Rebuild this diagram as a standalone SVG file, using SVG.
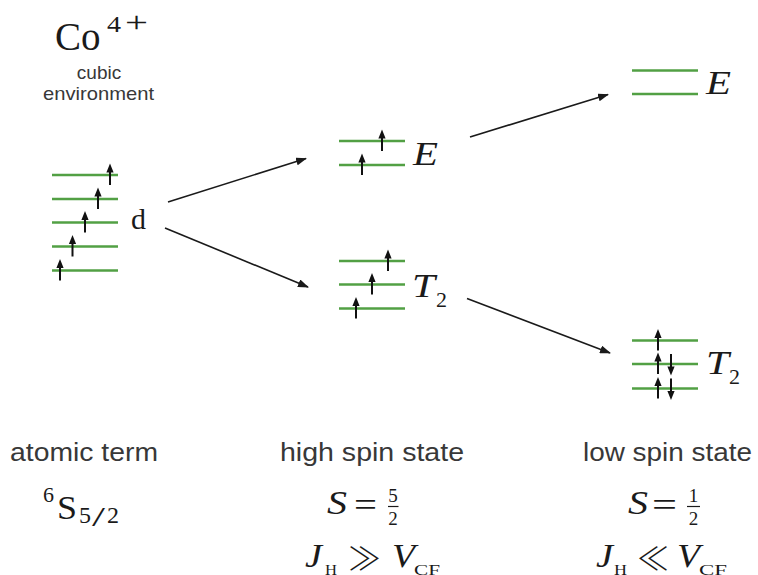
<svg xmlns="http://www.w3.org/2000/svg" xmlns:xlink="http://www.w3.org/1999/xlink" width="758" height="575" viewBox="0 0 758 575">
<style>
.lvl{stroke:#52a044;stroke-width:2.6;fill:none}
.con{stroke:#1a1a1a;stroke-width:1.6;fill:none;marker-end:url(#ah)}
.sans{font-family:"Liberation Sans",Arial,sans-serif;fill:#383838}
.serif{font-family:"Liberation Serif","Times New Roman",serif;fill:#1a1a1a}
.it{font-style:italic}
.rel{font-family:"Noto Sans CJK JP","DejaVu Serif",serif;font-weight:300;fill:#1a1a1a}
</style>
<defs>
<marker id="ah" markerWidth="11" markerHeight="8" refX="10" refY="4" orient="auto" markerUnits="userSpaceOnUse">
<path d="M0,0 L11,4 L0,8 Z" fill="#1a1a1a"/>
</marker>
<g id="up"><line x1="0" y1="10" x2="0" y2="-4" stroke="#111" stroke-width="2"/><path d="M0,-11.5 L-3.6,-2.5 L3.6,-2.5 Z" fill="#111"/></g>
<g id="dn"><line x1="0" y1="-10" x2="0" y2="4" stroke="#111" stroke-width="2"/><path d="M0,11.5 L-3.6,2.5 L3.6,2.5 Z" fill="#111"/></g>
</defs>

<g id="title">
<text class="serif" x="55" y="50" font-size="39">Co</text>
<text class="serif" x="107" y="32" font-size="23" textLength="14" lengthAdjust="spacingAndGlyphs">4</text>
<text class="serif" x="125" y="32" font-size="30" textLength="23" lengthAdjust="spacingAndGlyphs">+</text>
<text class="sans" x="99" y="79" font-size="19" text-anchor="middle">cubic</text>
<text class="sans" x="98.5" y="100" font-size="19" text-anchor="middle" textLength="111" lengthAdjust="spacingAndGlyphs">environment</text>
</g>

<g id="atomic">
<line class="lvl" x1="52" y1="175" x2="118" y2="175"/>
<line class="lvl" x1="52" y1="199" x2="118" y2="199"/>
<line class="lvl" x1="52" y1="222.5" x2="118" y2="222.5"/>
<line class="lvl" x1="52" y1="246.5" x2="118" y2="246.5"/>
<line class="lvl" x1="52" y1="270.5" x2="118" y2="270.5"/>
<use xlink:href="#up" x="110" y="175"/>
<use xlink:href="#up" x="98" y="199"/>
<use xlink:href="#up" x="85" y="222.5"/>
<use xlink:href="#up" x="72.5" y="246.5"/>
<use xlink:href="#up" x="60" y="270.5"/>
<text class="serif" x="131" y="229" font-size="30">d</text>
</g>

<g id="hs-E">
<line class="lvl" x1="339" y1="141" x2="405" y2="141"/>
<line class="lvl" x1="339" y1="165" x2="405" y2="165"/>
<use xlink:href="#up" x="382" y="141"/>
<use xlink:href="#up" x="362" y="165"/>
<text class="serif it" x="413" y="165" font-size="34" textLength="25" lengthAdjust="spacingAndGlyphs">E</text>
</g>

<g id="hs-T2">
<line class="lvl" x1="339" y1="261" x2="405" y2="261"/>
<line class="lvl" x1="339" y1="284.5" x2="405" y2="284.5"/>
<line class="lvl" x1="339" y1="308.5" x2="405" y2="308.5"/>
<use xlink:href="#up" x="388" y="261"/>
<use xlink:href="#up" x="372" y="284.5"/>
<use xlink:href="#up" x="356" y="308.5"/>
<text class="serif it" x="412" y="297" font-size="34" textLength="23" lengthAdjust="spacingAndGlyphs">T</text>
<text class="serif" x="436" y="307" font-size="22">2</text>
</g>

<g id="ls-E">
<line class="lvl" x1="632" y1="70.5" x2="698" y2="70.5"/>
<line class="lvl" x1="632" y1="94" x2="698" y2="94"/>
<text class="serif it" x="706" y="94" font-size="34" textLength="25" lengthAdjust="spacingAndGlyphs">E</text>
</g>

<g id="ls-T2">
<line class="lvl" x1="632" y1="340.5" x2="698" y2="340.5"/>
<line class="lvl" x1="632" y1="364" x2="698" y2="364"/>
<line class="lvl" x1="632" y1="388.5" x2="698" y2="388.5"/>
<use xlink:href="#up" x="658" y="340.5"/>
<use xlink:href="#up" x="658" y="364"/>
<use xlink:href="#dn" x="671" y="364"/>
<use xlink:href="#up" x="658" y="388.5"/>
<use xlink:href="#dn" x="671" y="388.5"/>
<text class="serif it" x="706" y="374" font-size="34" textLength="23" lengthAdjust="spacingAndGlyphs">T</text>
<text class="serif" x="729" y="384" font-size="22">2</text>
</g>

<g id="connectors">
<line class="con" x1="168" y1="202" x2="306" y2="158.5"/>
<line class="con" x1="165" y1="228" x2="308" y2="287"/>
<line class="con" x1="470" y1="137" x2="608" y2="94.5"/>
<line class="con" x1="467" y1="298.5" x2="610" y2="353"/>
</g>

<g id="labels">
<text class="sans" x="10" y="461" font-size="25" textLength="148" lengthAdjust="spacingAndGlyphs">atomic term</text>
<text class="sans" x="280" y="461" font-size="25" textLength="184" lengthAdjust="spacingAndGlyphs">high spin state</text>
<text class="sans" x="583" y="461" font-size="25" textLength="169" lengthAdjust="spacingAndGlyphs">low spin state</text>

<text class="serif" x="43" y="502" font-size="22">6</text>
<text class="serif" x="57" y="519" font-size="34" textLength="20" lengthAdjust="spacingAndGlyphs">S</text>
<text class="serif" x="79" y="523" font-size="24">5</text>
<text class="serif" x="92" y="526" font-size="28" textLength="13" lengthAdjust="spacingAndGlyphs">/</text>
<text class="serif" x="107" y="523" font-size="24">2</text>

<text class="serif it" x="327" y="514" font-size="34" textLength="20" lengthAdjust="spacingAndGlyphs">S</text>
<text class="serif" x="354" y="516" font-size="34" textLength="23" lengthAdjust="spacingAndGlyphs">=</text>
<text class="serif" x="393" y="502" font-size="19" text-anchor="middle">5</text>
<line x1="388" y1="506.5" x2="398.5" y2="506.5" stroke="#1a1a1a" stroke-width="1.2"/>
<text class="serif" x="393" y="525" font-size="19" text-anchor="middle">2</text>

<text class="serif it" x="628" y="514" font-size="34" textLength="20" lengthAdjust="spacingAndGlyphs">S</text>
<text class="serif" x="652" y="516" font-size="34" textLength="25" lengthAdjust="spacingAndGlyphs">=</text>
<text class="serif" x="693.5" y="502" font-size="19" text-anchor="middle">1</text>
<line x1="687" y1="506.5" x2="700" y2="506.5" stroke="#1a1a1a" stroke-width="1.2"/>
<text class="serif" x="693.5" y="525" font-size="19" text-anchor="middle">2</text>

<text class="serif it" x="305" y="567" font-size="34" textLength="17" lengthAdjust="spacingAndGlyphs">J</text>
<text class="serif" x="325" y="575" font-size="15" textLength="12" lengthAdjust="spacingAndGlyphs">H</text>
<text class="rel" x="348" y="570" font-size="32" textLength="33" lengthAdjust="spacingAndGlyphs">≫</text>
<text class="serif it" x="392" y="567" font-size="34" textLength="23" lengthAdjust="spacingAndGlyphs">V</text>
<text class="serif" x="414" y="575" font-size="15" textLength="26" lengthAdjust="spacingAndGlyphs">CF</text>

<text class="serif it" x="596" y="567" font-size="34" textLength="17" lengthAdjust="spacingAndGlyphs">J</text>
<text class="serif" x="614" y="575" font-size="15" textLength="13" lengthAdjust="spacingAndGlyphs">H</text>
<text class="rel" x="637" y="570" font-size="32" textLength="32" lengthAdjust="spacingAndGlyphs">≪</text>
<text class="serif it" x="677" y="567" font-size="34" textLength="23" lengthAdjust="spacingAndGlyphs">V</text>
<text class="serif" x="699" y="575" font-size="15" textLength="28" lengthAdjust="spacingAndGlyphs">CF</text>
</g>
</svg>
